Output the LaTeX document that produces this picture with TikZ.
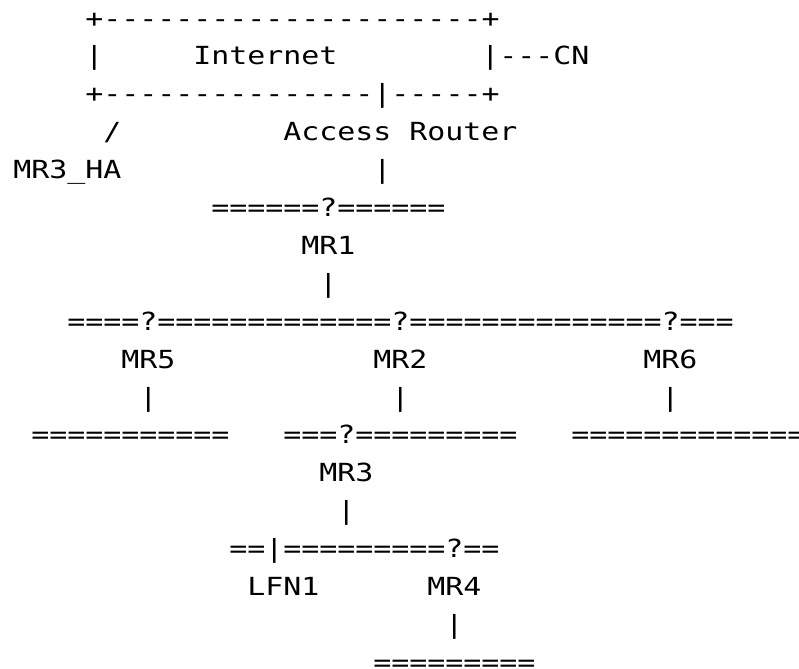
\documentclass[tikz,border=0pt]{standalone}
\usepackage{fontspec}
\setmonofont[FakeStretch=1.2]{DejaVu Sans Mono}
\def\col#1{13+18*#1}
\def\row#1{27+37.9*#1}

\begin{document}
\begin{tikzpicture}[x=0.75pt,y=-0.75pt,
	ascii/.style={anchor=base west, inner sep=0pt, font=\ttfamily\fontsize{18.7pt}{18.7pt}\selectfont}]
			%%%%% START %%%%%
			\useasboundingbox (0,0) rectangle (799,668);
			
			\node[ascii] (boxtop) at ({\col{4}},{\row{0}}) {+---------------------+};
			\node[ascii] (boxleft) at ({\col{4}},{\row{1}}) {|};
			\node[ascii] (internet) at ({\col{10}},{\row{1}}) {Internet};
			\node[ascii] (cn) at ({\col{26}},{\row{1}}) {|---CN};
			\node[ascii] (boxbot) at ({\col{4}},{\row{2}}) {+---------------|-----+};
			
			\node[ascii] (haslash) at ({\col{5}},{\row{3}}) {/};
			\node[ascii] (ar) at ({\col{15}},{\row{3}}) {Access Router};
			\node[ascii] (ha) at ({\col{0}},{\row{4}}) {MR3\_HA};
			\node[ascii] (arlink) at ({\col{20}},{\row{4}}) {|};
			\node[ascii] (net1) at ({\col{11}},{\row{5}}) {======?======};
			
			\node[ascii] (mr1) at ({\col{16}},{\row{6}}) {MR1};
			\node[ascii] (mr1link) at ({\col{17}},{\row{7}}) {|};
			\node[ascii] (net2) at ({\col{3}},{\row{8}}) {====?=============?==============?===};
			
			\node[ascii] (mr5) at ({\col{6}},{\row{9}}) {MR5};
			\node[ascii] (mr2) at ({\col{20}},{\row{9}}) {MR2};
			\node[ascii] (mr6) at ({\col{35}},{\row{9}}) {MR6};
			\node[ascii] (mr5link) at ({\col{7}},{\row{10}}) {|};
			\node[ascii] (mr2link) at ({\col{21}},{\row{10}}) {|};
			\node[ascii] (mr6link) at ({\col{36}},{\row{10}}) {|};
			\node[ascii] (net5) at ({\col{1}},{\row{11}}) {===========};
			\node[ascii] (net3) at ({\col{15}},{\row{11}}) {===?=========};
			\node[ascii] (net6) at ({\col{31}},{\row{11}}) {=============};
			
			\node[ascii] (mr3) at ({\col{17}},{\row{12}}) {MR3};
			\node[ascii] (mr3link) at ({\col{18}},{\row{13}}) {|};
			\node[ascii] (net4) at ({\col{12}},{\row{14}}) {==|=========?==};
			
			\node[ascii] (lfn1) at ({\col{13}},{\row{15}}) {LFN1};
			\node[ascii] (mr4) at ({\col{23}},{\row{15}}) {MR4};
			\node[ascii] (mr4link) at ({\col{24}},{\row{16}}) {|};
			\node[ascii] (net7) at ({\col{20}},{\row{17}}) {=========};
			
			%%%%% END %%%%%
		\end{tikzpicture}
\end{document}
